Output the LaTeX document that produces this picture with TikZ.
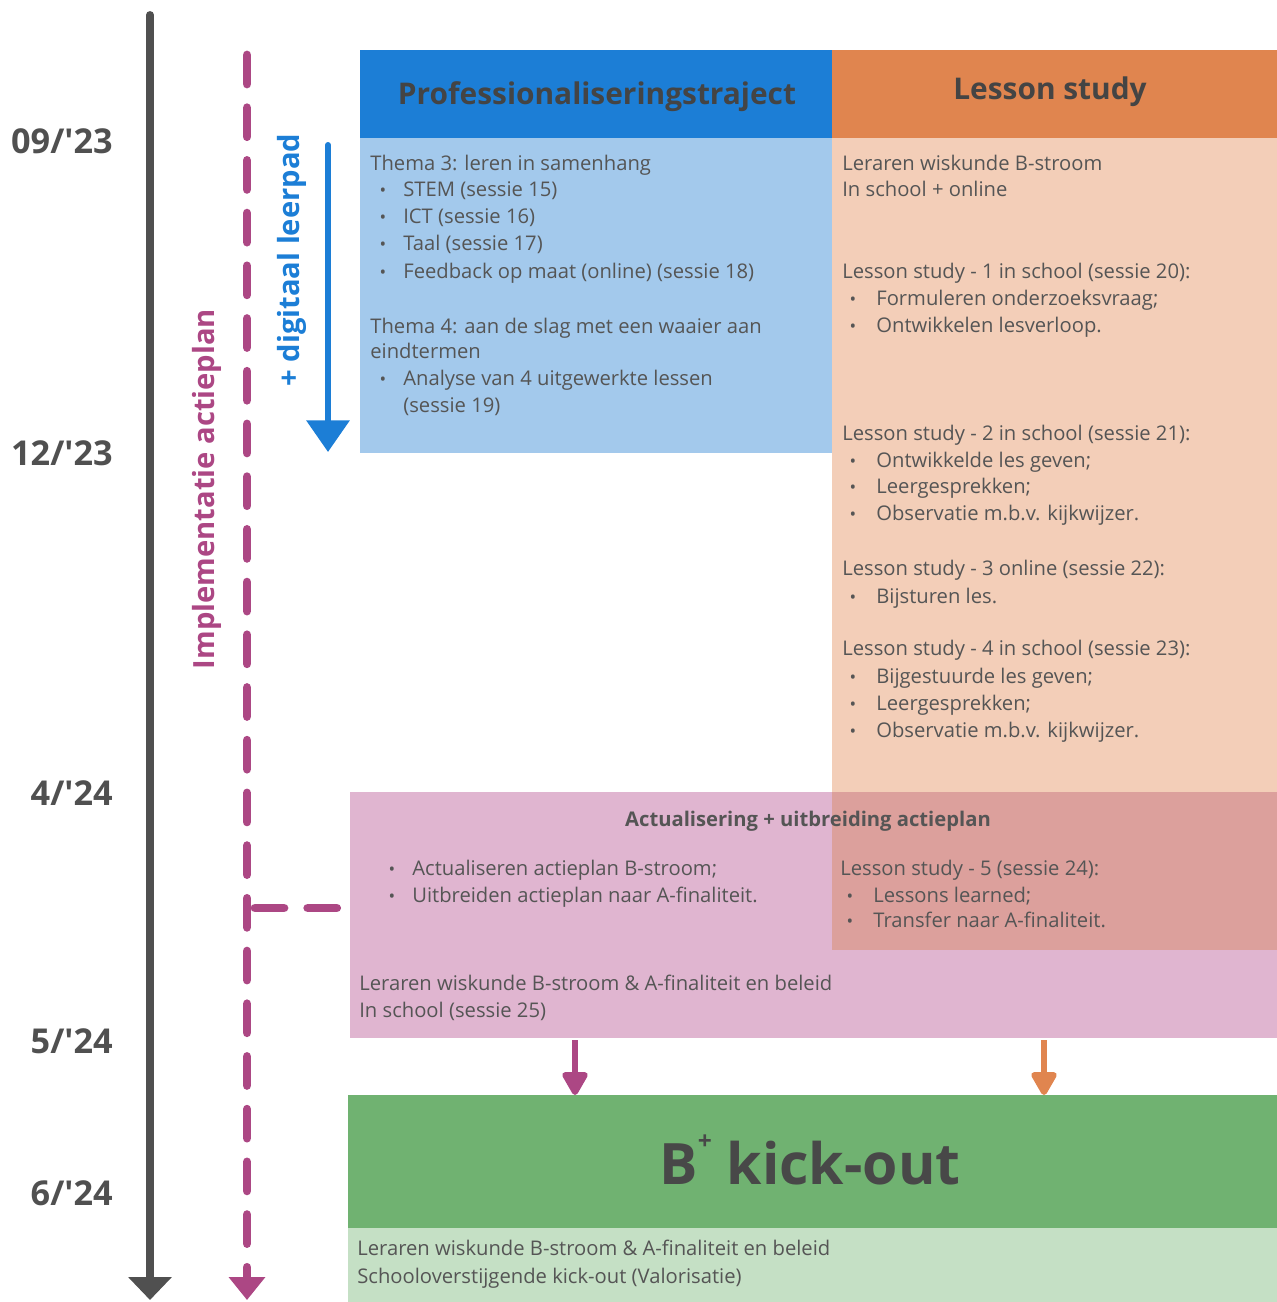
\documentclass[tikz,border=0pt]{standalone}
\usepackage{fontspec}
\setmainfont{Open Sans}
\usetikzlibrary{arrows.meta}
\definecolor{timegrey}{HTML}{505050}
\definecolor{textgrey}{HTML}{555555}
\definecolor{plum}{HTML}{AC4784}
\definecolor{profblue}{HTML}{1C7ED6}
\definecolor{lightblue}{HTML}{A3C9EC}
\definecolor{lessonorange}{HTML}{E0854F}
\definecolor{peach}{HTML}{F3CEB8}
\definecolor{pink}{HTML}{E0B5D0}
\definecolor{overlap}{HTML}{DCA09C}
\definecolor{kickgreen}{HTML}{70B271}
\definecolor{lightgreen}{HTML}{C5E0C5}
\tikzset{
  txt/.style={anchor=base west, inner sep=0pt, text=textgrey, font=\fontsize{11.5}{13}\selectfont},
  bul/.style={anchor=base, inner sep=0pt, text=textgrey, font=\fontsize{10}{12}\selectfont},
  datum/.style={anchor=base east, inner sep=0pt, text=timegrey, font=\bfseries\fontsize{19.5}{22}\selectfont},
  head/.style={inner sep=0pt, text=textgrey!80!black, font=\bfseries\fontsize{17}{20}\selectfont},
  plumdash/.style={draw=plum, line width=5pt, line cap=round, dash pattern=on 16.5pt off 13.5pt},
  smallarrow/.style={line width=3.4pt, -{Triangle[width=16pt,length=15pt,round]}}
}
\begin{document}
\begin{tikzpicture}[x=0.02cm,y=-0.02cm]
\useasboundingbox (0,0) rectangle (1277,1302);
% the boxes
\fill[profblue] (360,50) rectangle (832,138);
\fill[lessonorange] (832,50) rectangle (1277,138);
\fill[lightblue] (360,138) rectangle (832,453);
\fill[peach] (832,138) rectangle (1277,792);
\fill[pink] (350,792) rectangle (1277,1038);
\fill[overlap] (832,792) rectangle (1277,950);
\fill[kickgreen] (348,1095) rectangle (1277,1228);
\fill[lightgreen] (348,1228) rectangle (1277,1302);
% the time line and its dates
\coordinate (tstart) at (150,15);
\coordinate (tend) at (150,1300);
\draw[timegrey, line width=4.5pt, line cap=round, -{Triangle[width=24pt,length=13pt]}] (tstart) -- (tend);
\foreach \y/\d [count=\i] in {153/{09/\textquotesingle23}, 465/{12/\textquotesingle23}, 805/{4/\textquotesingle24}, 1053/{5/\textquotesingle24}, 1205/{6/\textquotesingle24}}
  \node[datum] (date\i) at (113,\y) {\d};
% implementation line
\coordinate (pstart) at (247,55);
\coordinate (pend) at (247,1300);
\draw[plumdash, -{Triangle[width=20pt,length=13pt]}] (pstart) -- (pend);
\node[rotate=90, inner sep=0pt, text=plum, font=\bfseries\fontsize{16.6}{19}\selectfont] (impl) at (207,489) {Implementatie actieplan};
\coordinate (pbranch) at (255,908);
\coordinate (pbox) at (348,908);
\draw[plumdash] (pbranch) -- (pbox);
% digital path
\coordinate (dstart) at (328,145);
\coordinate (dend) at (328,452);
\draw[profblue, line width=3.4pt, line cap=round, -{Triangle[width=24pt,length=18pt]}] (dstart) -- (dend);
\node[rotate=90, inner sep=0pt, text=profblue, font=\bfseries\fontsize{16.6}{19}\selectfont] (digi) at (292,260) {+ digitaal leerpad};
% headers
\node[head] (prof) at (597,97) {Professionaliseringstraject};
\node[head] (lesson) at (1050,92) {Lesson study};
% professionalisation
\node[txt] (thema3) at (370,170) {Thema 3: leren in samenhang};
\foreach \y/\t [count=\i] in {196/STEM (sessie 15), 223/ICT (sessie 16), 250/Taal (sessie 17), 278/Feedback op maat (online) (sessie 18)}{
  \node[bul] (thbul\i) at (383,\y) {•};
  \node[txt] (thitem\i) at (403,\y) {\t};
}
\node[txt] (thema4) at (370,333) {Thema 4: aan de slag met een waaier aan};
\node[txt] (thema4b) at (370,358) {eindtermen};
\node[bul] (anbul) at (383,385) {•};
\node[txt] (analyse) at (403,385) {Analyse van 4 uitgewerkte lessen};
\node[txt] (analyseb) at (403,412) {(sessie 19)};
% lesson study
\node[txt] (lsa) at (842,170) {Leraren wiskunde B-stroom};
\node[txt] (lsb) at (842,196) {In school + online};
\node[txt] (ls1) at (842,278) {Lesson study - 1 in school (sessie 20):};
\node[txt] (ls2) at (842,440) {Lesson study - 2 in school (sessie 21):};
\node[txt] (ls3) at (842,575) {Lesson study - 3 online (sessie 22):};
\node[txt] (ls4) at (842,655) {Lesson study - 4 in school (sessie 23):};
\foreach \y/\t [count=\i] in {305/Formuleren onderzoeksvraag;, 332/Ontwikkelen lesverloop., 467/Ontwikkelde les geven;, 493/Leergesprekken;, 520/Observatie m.b.v. kijkwijzer., 603/Bijsturen les., 683/Bijgestuurde les geven;, 710/Leergesprekken;, 737/Observatie m.b.v. kijkwijzer.}{
  \node[bul] (lsbul\i) at (853,\y) {•};
  \node[txt] (lsitem\i) at (876,\y) {\t};
}
% action plan
\node[inner sep=0pt, text=textgrey, font=\bfseries\fontsize{11.5}{13}\selectfont] (actua) at (808,821) {Actualisering + uitbreiding actieplan};
\foreach \y/\t [count=\i] in {875/Actualiseren actieplan B-stroom;, 902/Uitbreiden actieplan naar A-finaliteit.}{
  \node[bul] (acbul\i) at (392,\y) {•};
  \node[txt] (acitem\i) at (412,\y) {\t};
}
\node[txt] (ls5) at (840,875) {Lesson study - 5 (sessie 24):};
\foreach \y/\t [count=\i] in {902/Lessons learned;, 927/Transfer naar A-finaliteit.}{
  \node[bul] (lfbul\i) at (850,\y) {•};
  \node[txt] (lfitem\i) at (873,\y) {\t};
}
\node[txt] (acta) at (359,990) {Leraren wiskunde B-stroom \& A-finaliteit en beleid};
\node[txt] (actb) at (359,1017) {In school (sessie 25)};
% towards the kick-out
\coordinate (pinkout) at (575,1040);
\coordinate (kickin) at (575,1095);
\coordinate (peachout) at (1044,1040);
\coordinate (kickinb) at (1044,1095);
\draw[smallarrow, plum] (pinkout) -- (kickin);
\draw[smallarrow, lessonorange] (peachout) -- (kickinb);
\node[inner sep=0pt, text=textgrey!85!black, font=\bfseries\fontsize{32.5}{36}\selectfont] (kick) at (810,1160) {B\raisebox{1.1ex}{\fontsize{14}{16}\selectfont +} kick-out};
\node[txt] (kicka) at (357,1255) {Leraren wiskunde B-stroom \& A-finaliteit en beleid};
\node[txt] (kickb) at (357,1283) {Schooloverstijgende kick-out (Valorisatie)};
\end{tikzpicture}
\end{document}
